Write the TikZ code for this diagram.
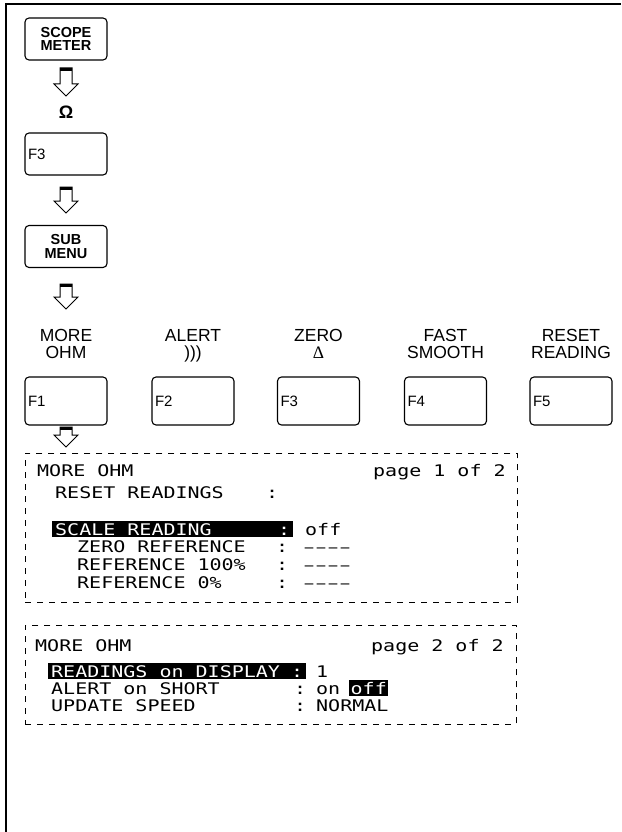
\documentclass[tikz,border=0pt]{standalone}
\usepackage{fontspec}
\setmainfont{Liberation Sans}
\newfontfamily\lcdfont[FakeStretch=1.25]{DejaVu Sans Mono}
\newfontfamily\dashfont[FakeStretch=1.25]{Liberation Mono}
\newfontfamily\grkfont{Liberation Serif}
\usetikzlibrary{positioning}
% hollow block arrow, top centre at #1, stem length #2
\newcommand\keyarrow[2]{%
  \draw[blkarr] (#1) ++(-6,0) -- ++(12,0) -- ++(0,#2) -- ++(6,0) -- ++(-12,12) -- ++(-12,-12) -- ++(6,0) -- cycle;
  \fill (#1) ++(-6,0) rectangle ++(12,3);}

\begin{document}
\begin{tikzpicture}[x=1pt,y=-1pt]
\tikzset{key/.style={draw,line width=1.1pt,rounded corners=4pt,minimum width=82pt,minimum height=42pt,inner sep=0pt,align=center,font=\bfseries\fontsize{14.5}{13.5}\selectfont},
  fkey/.style={key,minimum height=48pt,text width=76pt,align=left,font=\fontsize{15}{15}\selectfont},
  lbl/.style={align=center,inner sep=0pt,text depth=0pt,font=\fontsize{17.5}{16.5}\selectfont},
  blkarr/.style={draw,line width=1pt,fill=white,line join=miter},
  screen/.style={draw,dash pattern=on 6pt off 6pt,line width=0.9pt,anchor=north west,inner sep=0pt},
  lcd/.style={anchor=base west,inner sep=0pt,font=\lcdfont\fontsize{16}{16}\selectfont},
  nodash/.style={lcd,font=\dashfont\fontsize{16}{16}\selectfont},
  hl/.style={lcd,fill=black,text=white,inner xsep=3pt,inner ysep=2pt,text height=12.5pt,text depth=0pt}}
\useasboundingbox (0,0) rectangle (621,832);
\draw[line width=2.5pt] (6,832) |- (621,4);
% key sequence
\node[key] (scope) at (66,39) {SCOPE\\METER};
\coordinate (a1) at (66,68); \keyarrow{a1}{16}
\node[inner sep=0pt,font=\bfseries\fontsize{18}{18}\selectfont] (ohm) at (66,112) {Ω};
\node[fkey,minimum height=42pt] (f3top) at (66,154) {F3};
\coordinate (a2) at (66,187); \keyarrow{a2}{14}
\node[key] (submenu) at (66,246.5) {SUB\\MENU};
\coordinate (a3) at (66,284); \keyarrow{a3}{13}
% function keys
\node[fkey] (f1) at (66,401) {F1};
\node[fkey] (f2) at (193,401) {F2};
\node[fkey] (f3) at (318.5,401) {F3};
\node[fkey] (f4) at (445.5,401) {F4};
\node[fkey] (f5) at (571,401) {F5};
\node[lbl,above=18pt of f1] (l1) {MORE\\OHM};
\node[lbl,above=18pt of f2] (l2) {ALERT\\)))};
\node[lbl,above=18pt of f3] (l3) {ZERO\\{\grkfont Δ}};
\node[lbl,above=18pt of f4] (l4) {FAST\\SMOOTH};
\node[lbl,above=18pt of f5] (l5) {RESET\\READING};
\coordinate (a4) at (66,427); \keyarrow{a4}{8}
% screen page 1
\node[screen,minimum width=492pt,minimum height=149pt] (scr1) at (25,453) {};
\node[lcd] (t1) at (37,476) {MORE OHM};
\node[lcd] (p1) at (373,476) {page 1 of 2};
\node[lcd] (rst) at (55,498) {RESET READINGS};
\node[lcd] (rstc) at (266,498) {:};
\node[hl] (scl) at (52,535) {\makebox[235pt][l]{SCALE READING\hfill:}};
\node[lcd] (sclv) at (305,535) {off};
\node[lcd] (zr) at (77,552) {ZERO REFERENCE};
\node[lcd] (zrc) at (276,552) {:};
\node[nodash] (zrv) at (303,552) {––––};
\node[lcd] (rh) at (77,570) {REFERENCE 100\%};
\node[lcd] (rhc) at (276,570) {:};
\node[nodash] (rhv) at (303,570) {––––};
\node[lcd] (rz) at (77,588) {REFERENCE 0\%};
\node[lcd] (rzc) at (276,588) {:};
\node[nodash] (rzv) at (303,588) {––––};
% screen page 2
\node[screen,minimum width=491pt,minimum height=99pt] (scr2) at (25,625) {};
\node[lcd] (t2) at (35,651) {MORE OHM};
\node[lcd] (p2) at (371,651) {page 2 of 2};
\node[hl] (rod) at (48,677) {\makebox[252pt][l]{READINGS on DISPLAY\hfill:}};
\node[lcd] (rodv) at (316,677) {1};
\node[lcd] (als) at (51,694) {ALERT on SHORT};
\node[lcd] (alsc) at (294,694) {:};
\node[lcd] (alson) at (316,694) {on};
\node[hl,inner xsep=1.5pt] (alsoff) at (349,694) {off};
\node[lcd] (ups) at (51,711) {UPDATE SPEED};
\node[lcd] (upsc) at (294,711) {:};
\node[lcd] (upsv) at (316,711) {NORMAL};
\end{tikzpicture}
\end{document}
